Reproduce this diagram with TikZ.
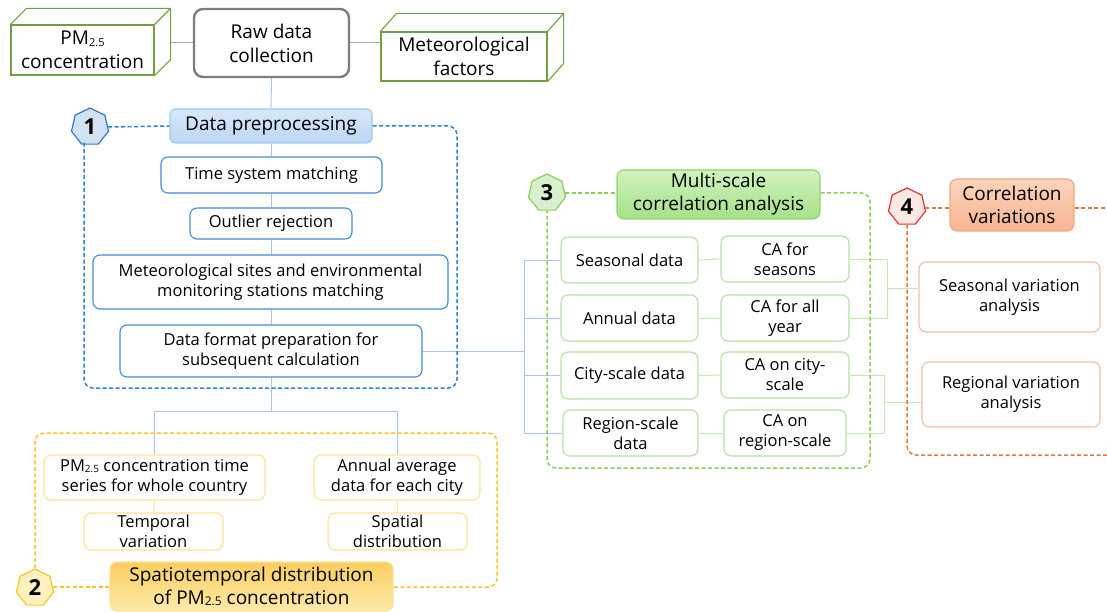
\documentclass[tikz,border=0pt]{standalone}
\usepackage{fontspec}
\setmainfont{Open Sans}
\usetikzlibrary{shapes.geometric,backgrounds,calc}
\definecolor{cubeC}{RGB}{110,160,70}
\definecolor{rawC}{RGB}{125,125,125}
\definecolor{grayLine}{RGB}{170,170,170}
\definecolor{bFrame}{RGB}{44,130,210}
\definecolor{bBorder}{RGB}{66,139,214}
\definecolor{bLine}{RGB}{170,195,235}
\definecolor{bTop}{RGB}{216,232,249}
\definecolor{bBot}{RGB}{188,214,244}
\definecolor{bHeadB}{RGB}{160,200,240}
\definecolor{bHept}{RGB}{210,226,242}
\definecolor{bHeptB}{RGB}{52,120,200}
\definecolor{yFrame}{RGB}{248,196,40}
\definecolor{yBorder}{RGB}{253,226,150}
\definecolor{yLine}{RGB}{250,225,150}
\definecolor{yHept}{RGB}{255,240,190}
\definecolor{yTop}{RGB}{250,206,95}
\definecolor{yBot}{RGB}{254,234,170}
\definecolor{gFrame}{RGB}{140,205,90}
\definecolor{gBorder}{RGB}{180,225,160}
\definecolor{gLine}{RGB}{195,232,175}
\definecolor{gHept}{RGB}{215,240,205}
\definecolor{gTop}{RGB}{208,243,190}
\definecolor{gBot}{RGB}{165,225,135}
\definecolor{gHeadB}{RGB}{150,210,110}
\definecolor{oFrame}{RGB}{225,120,60}
\definecolor{oBorder}{RGB}{243,190,160}
\definecolor{oHept}{RGB}{253,232,228}
\definecolor{oHeptB}{RGB}{225,50,50}
\definecolor{oTop}{RGB}{252,212,188}
\definecolor{oBot}{RGB}{247,180,145}
\definecolor{oHeadB}{RGB}{240,170,130}
\newcommand{\pmsub}[1]{PM\raisebox{-0.08em}{\fontsize{#1}{#1}\selectfont 2.5}}
\tikzset{
  bx/.style={draw, rounded corners=7pt, fill=white, line width=1.1pt, align=center, inner sep=0pt, font=\fontsize{16.5}{20}\selectfont},
  bluebox/.style={bx, draw=bBorder},
  yelbox/.style={bx, draw=yBorder},
  grnbox/.style={bx, draw=gBorder},
  orgbox/.style={bx, draw=oBorder},
  head/.style={bx, font=\fontsize{19}{23}\selectfont},
  cube/.style={draw=cubeC, line width=1.1pt, fill=white, align=center, inner sep=0pt, font=\fontsize{19}{24}\selectfont},
  hept/.style={regular polygon, regular polygon sides=7, minimum size=38pt, inner sep=0pt, line width=1.2pt, font=\bfseries\fontsize{22}{22}\selectfont},
  frame/.style={dash pattern=on 4pt off 2.5pt, line width=1.5pt, rounded corners=9pt},
  conn/.style={line width=1pt},
}
\begin{document}
\begin{tikzpicture}[x=1pt,y=-1pt]
\useasboundingbox (0,0) rectangle (1107,612);

% ---- top row ----
\node[cube, minimum width=143pt, minimum height=50pt] (pm) at (82.5,50) {\pmsub{11}\\concentration};
\draw[cubeC, line width=1.1pt, line join=round] (pm.north west) -- ++(16,-16) -- ($(pm.north east)+(16,-16)$) -- ($(pm.south east)+(16,-16)$) -- (pm.south east);
\draw[cubeC, line width=1.1pt] (pm.north east) -- ++(16,-16);
\coordinate (pmR) at (170,43);

\node[bx, draw=rawC, line width=2.4pt, rounded corners=9pt, font=\fontsize{19}{24}\selectfont, minimum width=155pt, minimum height=68pt] (raw) at (271.5,43) {Raw data\\collection};

\node[cube, minimum width=166pt, minimum height=49pt] (met) at (464,56.5) {Meteorological\\factors};
\draw[cubeC, line width=1.1pt, line join=round] (met.north west) -- ++(16,-18) -- ($(met.north east)+(16,-18)$) -- ($(met.south east)+(16,-18)$) -- (met.south east);
\draw[cubeC, line width=1.1pt] (met.north east) -- ++(16,-18);

% ---- section 1 ----
\node[head, draw=bHeadB, top color=bTop, bottom color=bBot, rounded corners=5pt, minimum width=202pt, minimum height=34pt] (dp) at (271,126) {Data preprocessing};
\node[hept, draw=bHeptB, fill=bHept] (h1) at (90,127) {1};
\node[bluebox, minimum width=221pt, minimum height=36pt] (tsm) at (271.5,175) {Time system matching};
\node[bluebox, minimum width=162pt, minimum height=31pt] (outl) at (271,223.5) {Outlier rejection};
\node[bluebox, minimum width=355pt, minimum height=54pt] (msm) at (270.5,282) {Meteorological sites and environmental\\monitoring stations matching};
\node[bluebox, minimum width=302pt, minimum height=52pt] (dfp) at (271,351) {Data format preparation for\\subsequent calculation};

% ---- section 2 ----
\node[yelbox, minimum width=221pt, minimum height=45pt] (ts) at (154.5,477.5) {\pmsub{10} concentration time\\series for whole country};
\node[yelbox, minimum width=139pt, minimum height=37pt] (tv) at (153.5,531.5) {Temporal\\variation};
\node[yelbox, minimum width=166pt, minimum height=45pt] (aa) at (397,477.5) {Annual average\\data for each city};
\node[yelbox, minimum width=139pt, minimum height=37pt] (sd) at (397.5,531.5) {Spatial\\distribution};
\node[head, draw=yBorder, top color=yTop, bottom color=yBot, minimum width=283pt, minimum height=49pt] (st) at (251.5,586.5) {Spatiotemporal distribution\\of \pmsub{12} concentration};
\node[hept, draw=yFrame, fill=yHept] (h2) at (35,588) {2};

% ---- section 3 ----
\node[head, draw=gHeadB, top color=gTop, bottom color=gBot, minimum width=203pt, minimum height=49pt] (ms) at (718.5,194.5) {Multi-scale\\correlation analysis};
\node[hept, draw=gFrame, fill=gHept] (h3) at (547,193) {3};
\node[grnbox, minimum width=137pt, minimum height=46pt] (sdat) at (629.5,260) {Seasonal data};
\node[grnbox, minimum width=128pt, minimum height=46pt] (cas) at (785,259) {CA for\\seasons};
\node[grnbox, minimum width=137pt, minimum height=46pt] (adat) at (629.5,318) {Annual data};
\node[grnbox, minimum width=128pt, minimum height=46pt] (caa) at (785,318) {CA for all\\year};
\node[grnbox, minimum width=137pt, minimum height=47pt] (cdat) at (629.5,375.5) {City-scale data};
\node[grnbox, minimum width=128pt, minimum height=46pt] (cac) at (785,375) {CA on city-\\scale};
\node[grnbox, minimum width=135pt, minimum height=46pt] (rdat) at (630.5,433) {Region-scale\\data};
\node[grnbox, minimum width=122pt, minimum height=46pt] (car) at (785,433) {CA on\\region-scale};

% ---- section 4 ----
\node[head, draw=oHeadB, top color=oTop, bottom color=oBot, minimum width=124pt, minimum height=52pt] (cv) at (1012,205) {Correlation\\variations};
\node[hept, draw=oHeptB, fill=oHept] (h4) at (907,207) {4};
\node[orgbox, minimum width=181pt, minimum height=70pt] (sva) at (1009.5,297) {Seasonal variation\\analysis};
\node[orgbox, minimum width=178pt, minimum height=65pt] (rva) at (1011,394.5) {Regional variation\\analysis};

\begin{scope}[on background layer]
  % top connectors
  \draw[conn, grayLine] (pmR) -- (raw.west |- pmR);
  \draw[conn, grayLine] (raw.east |- pmR) -- (met.west |- pmR);
  \draw[conn, bLine] (raw.south) -- (dp.north);
  % section 1 spine
  \coordinate (brA) at (271,411);
  \draw[conn, bLine] (dp.south) -- (brA);
  \draw[conn, bLine] (ts.north |- brA) -- (aa.north |- brA);
  \draw[conn, bLine] (ts.north |- brA) -- (ts.north);
  \draw[conn, bLine] (aa.north |- brA) -- (aa.north);
  % branch to section 3
  \coordinate (brB) at (524,351);
  \draw[conn, bLine] (dfp.east) -- (brB);
  \draw[conn, bLine] (brB |- sdat.west) -- (brB |- rdat.west);
  \foreach \n in {sdat,adat,cdat,rdat} \draw[conn, bLine] (brB |- \n.west) -- (\n.west);
  % yellow inner
  \draw[conn, yLine] (ts.south) -- (tv.north);
  \draw[conn, yLine] (aa.south) -- (sd.north);
  % green connectors
  \draw[conn, gLine] (sdat.east) -- (cas.west);
  \draw[conn, gLine] (adat.east) -- (caa.west);
  \draw[conn, gLine] (cdat.east) -- (cac.west);
  \draw[conn, gLine] (rdat.east) -- (car.west);
  \coordinate (jS) at (887,288);
  \draw[conn, gLine] (cas.east) -- (cas.east -| jS) -- (caa.east -| jS) -- (caa.east);
  \draw[conn, gLine] (jS) -- (sva.west |- jS);
  \coordinate (jR) at (884,402);
  \draw[conn, gLine] (cac.east) -- (cac.east -| jR) -- (car.east -| jR) -- (car.east);
  \draw[conn, gLine] (jR) -- (rva.west |- jR);
\end{scope}

% ---- frames ----
\draw[frame, bFrame] (h1.east) -- (dp.west);
\draw[frame, bFrame] (dp.east) -- (457,126) -- (457,388) -- (84,388) -- (84,142);
\draw[frame, yFrame] (h2.north) -- (35,433) -- (497,433) -- (497,587) -- (st.east |- 0,587);
\draw[frame, yFrame] (h2.east |- 0,587) -- (st.west |- 0,587);
\draw[frame, gFrame] (h3.east) -- (ms.west |- h3.east);
\draw[frame, gFrame] (ms.east |- h3.east) -- (870,193) -- (870,468) -- (547,468) -- (h3.south);
\draw[frame, oFrame] (h4.east |- 0,208) -- (cv.west |- 0,208);
\draw[frame, oFrame] (cv.east |- 0,208) -- (1107,208);
\draw[frame, oFrame] (h4.south) -- (907,455) -- (1107,455);
\end{tikzpicture}
\end{document}
